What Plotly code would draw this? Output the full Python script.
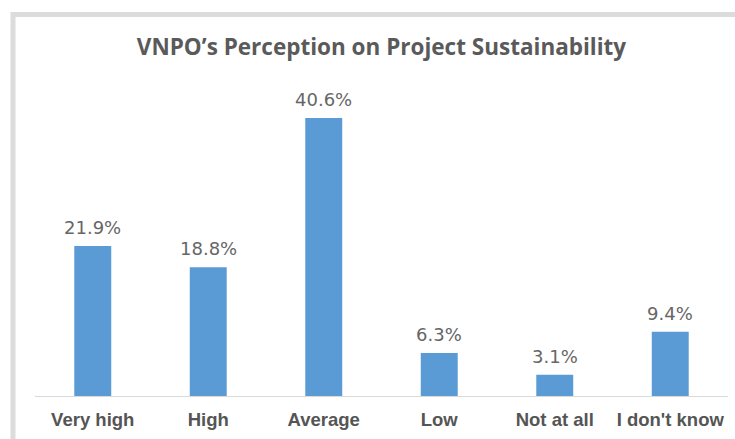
import plotly.graph_objects as go

# Survey responses (% of VNPOs)
categories = ["Very high", "High", "Average", "Low", "Not at all", "I don't know"]
shares = [21.9, 18.8, 40.6, 6.3, 3.1, 9.4]

W, H = 735, 439
M_L, M_R, M_T, M_B = 35, 7, 88, 43
PW, PH = W - M_L - M_R, H - M_T - M_B


def px_x(x):
    return (x - M_L) / PW


def px_y(y):
    return (H - M_B - y) / PH


fig = go.Figure(
    go.Bar(
        x=categories,
        y=shares,
        marker=dict(color="#5B9BD5", line=dict(width=0)),
        cliponaxis=False,
    )
)

# value labels above each bar
for cat, val in zip(categories, shares):
    fig.add_annotation(
        x=cat, y=val, xref="x", yref="y",
        text=f"{val:.1f}%", showarrow=False,
        yanchor="bottom", yshift=6,
        font=dict(family="DejaVu Sans", size=18, color="#666666"),
    )

# chart frame (grey border running off the right and bottom edges)
fig.add_shape(
    type="rect", xref="paper", yref="paper",
    x0=px_x(13), x1=px_x(W + 20), y0=px_y(H + 20), y1=px_y(14.5),
    line=dict(color="#dcdcdc", width=5), fillcolor="rgba(0,0,0,0)", layer="below",
)

fig.update_layout(
    width=W, height=H,
    margin=dict(l=M_L, r=M_R, t=M_T, b=M_B),
    paper_bgcolor="white", plot_bgcolor="white",
    bargap=0.68,
    showlegend=False,
    title=dict(
        text="<b>VNPO’s Perception on Project Sustainability</b>",
        x=0.5, xref="paper", xanchor="center",
        y=1 - 47 / H, yanchor="middle",
        font=dict(family="Open Sans", size=22.5, color="#5a5a5a"),
    ),
    xaxis=dict(
        showline=True, linecolor="#d9d9d9", linewidth=1,
        showgrid=False, ticks="", zeroline=False,
        automargin=False,
        ticklabelstandoff=7,
        tickfont=dict(family="Liberation Sans", size=18.5, color="#555555", weight="bold"),
    ),
    yaxis=dict(range=[0, 45], visible=False, showgrid=False, zeroline=False),
)

fig.write_html("out.html")
